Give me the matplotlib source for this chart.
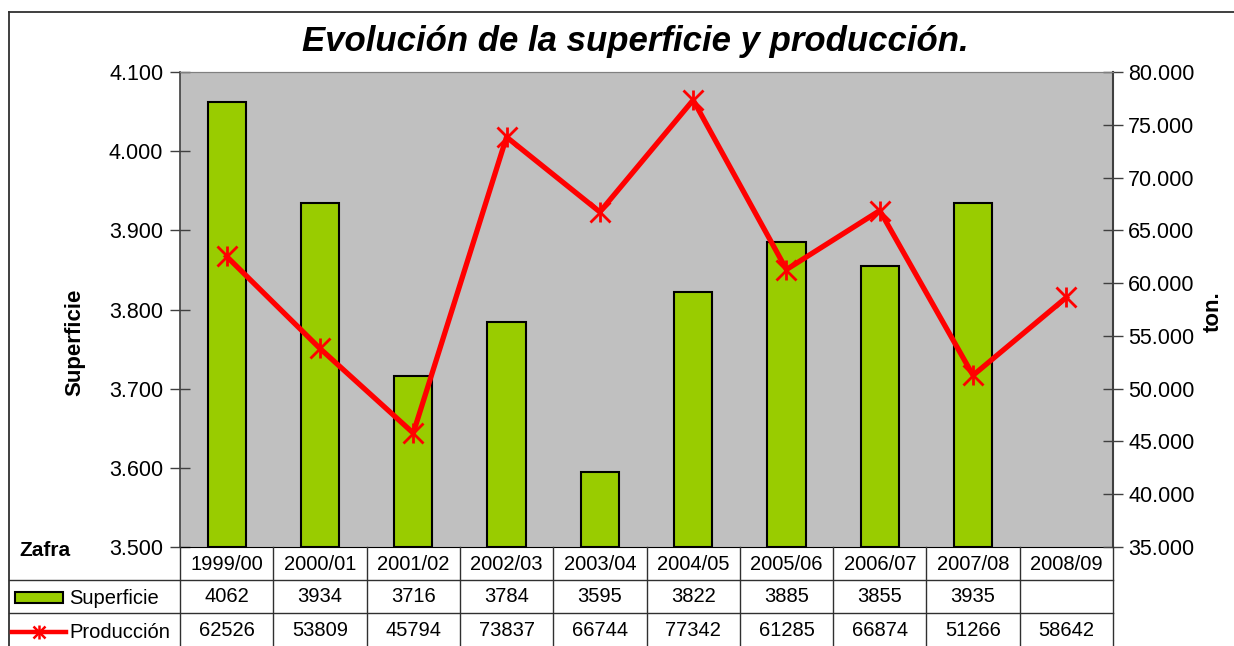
import matplotlib
matplotlib.use("Agg")
import matplotlib.pyplot as plt
from matplotlib.lines import Line2D
from matplotlib.patches import Rectangle
from matplotlib.transforms import blended_transform_factory
import numpy as np

plt.rcParams['font.family'] = ['Liberation Sans', 'DejaVu Sans']

zafras = ["1999/00", "2000/01", "2001/02", "2002/03", "2003/04",
          "2004/05", "2005/06", "2006/07", "2007/08", "2008/09"]
superficie = [4062, 3934, 3716, 3784, 3595, 3822, 3885, 3855, 3935, None]
produccion = [62526, 53809, 45794, 73837, 66744, 77342, 61285, 66874, 51266, 58642]
left_ticks = [3500, 3600, 3700, 3800, 3900, 4000, 4100]
right_ticks = [35000, 40000, 45000, 50000, 55000, 60000, 65000, 70000, 75000, 80000]

W, H = 1234, 646
fig = plt.figure(figsize=(W / 100, H / 100), dpi=100)

def fx(px):
    return px / W

def fy(py):
    return 1 - py / H

L, R, T, B = 180, 1113, 72, 547
ax = fig.add_axes([fx(L), fy(B), fx(R) - fx(L), fy(T) - fy(B)])
ax.set_facecolor('#C0C0C0')

n = len(zafras)
x = np.arange(n)
bx = [i for i, v in enumerate(superficie) if v is not None]
bv = [superficie[i] for i in bx]
ax.bar(bx, [v - 3500 for v in bv], bottom=3500, width=0.41,
       color='#99CC00', edgecolor='black', linewidth=1.5, zorder=2)
ax.set_xlim(-0.5, n - 0.5)
ax.set_ylim(3500, 4100)
ax.set_yticks(left_ticks)
ax.set_yticklabels([f"{v:,}".replace(",", ".") for v in left_ticks], fontsize=15.5)
ax.set_xticks([])
ax.tick_params(axis='y', direction='inout', length=14, width=1, pad=5, color='#404040')
ax.spines['top'].set_color('#808080')
ax.spines['left'].set_color('#404040')
ax.spines['left'].set_linewidth(1.2)
ax.spines['right'].set_visible(False)
ax.spines['bottom'].set_color('black')

ax2 = ax.twinx()
ax2.plot(x, produccion, color='#FF0000', linewidth=3.8, marker='x',
         markersize=14, markeredgewidth=2.0, zorder=3)
ax2.plot(x, produccion, linestyle='none', color='#FF0000', marker='|',
         markersize=15, markeredgewidth=2.0, zorder=3)
ax2.set_ylim(35000, 80000)
ax2.set_yticks(right_ticks)
ax2.set_yticklabels([f"{v:,}".replace(",", ".") for v in right_ticks], fontsize=15.5)
ax2.tick_params(axis='y', direction='inout', length=14, width=1, pad=4, color='#404040')
ax2.spines['right'].set_color('#404040')
ax2.spines['right'].set_linewidth(1.5)
ax2.spines['left'].set_visible(False)
ax2.spines['top'].set_color('#808080')
ax2.spines['bottom'].set_visible(False)

fig.text(fx(75), fy(342), "Superficie", rotation=90, ha='center', va='center',
         fontsize=16, fontweight='bold')
fig.text(fx(1213), fy(312), "ton.", rotation=90, ha='center', va='center',
         fontsize=16, fontweight='bold')
fig.text(fx(635), fy(42), "Evolución de la superficie y producción.", ha='center',
         va='center', fontsize=25, fontweight='bold', fontstyle='italic')

# outer frame
fig.add_artist(Line2D([fx(9), fx(9)], [fy(12), fy(646)], color='#303030', lw=1.3))
fig.add_artist(Line2D([fx(9), 1.0], [fy(12), fy(12)], color='#303030', lw=1.3))

# data table
tr = blended_transform_factory(ax.transData, fig.transFigure)
rows = [547, 580, 613, 646]
for r in rows[1:3]:
    fig.add_artist(Line2D([fx(9), fx(R)], [fy(r), fy(r)], color='#303030', lw=1))
for i in range(n + 1):
    fig.add_artist(Line2D([i - 0.5, i - 0.5], [fy(547), fy(646)], color='#303030',
                          lw=1, transform=tr))
for i in range(n):
    fig.text(i, fy(564), zafras[i], transform=tr, ha='center', va='center', fontsize=14.5)
    if superficie[i] is not None:
        fig.text(i, fy(597), str(superficie[i]), transform=tr, ha='center',
                 va='center', fontsize=14.5)
    fig.text(i, fy(630), str(produccion[i]), transform=tr, ha='center',
             va='center', fontsize=14.5)

fig.text(fx(19), fy(551), "Zafra", ha='left', va='center', fontsize=15, fontweight='bold')
fig.add_artist(Rectangle((fx(15), fy(603)), fx(63) - fx(15), fy(592) - fy(603),
                         facecolor='#99CC00', edgecolor='black', lw=1.5))
fig.text(fx(69), fy(599), "Superficie", ha='left', va='center', fontsize=14.5)
fig.add_artist(Line2D([fx(12), fx(66)], [fy(632), fy(632)], color='#FF0000', lw=3.2))
fig.add_artist(Line2D([fx(39)], [fy(632)], color='#FF0000', marker='x', markersize=9,
                      markeredgewidth=1.8, linestyle='none'))
fig.add_artist(Line2D([fx(39)], [fy(632)], color='#FF0000', marker='|', markersize=10,
                      markeredgewidth=1.8, linestyle='none'))
fig.text(fx(69), fy(632), "Producción", ha='left', va='center', fontsize=14.5)

fig.savefig("out.png", dpi=100)
